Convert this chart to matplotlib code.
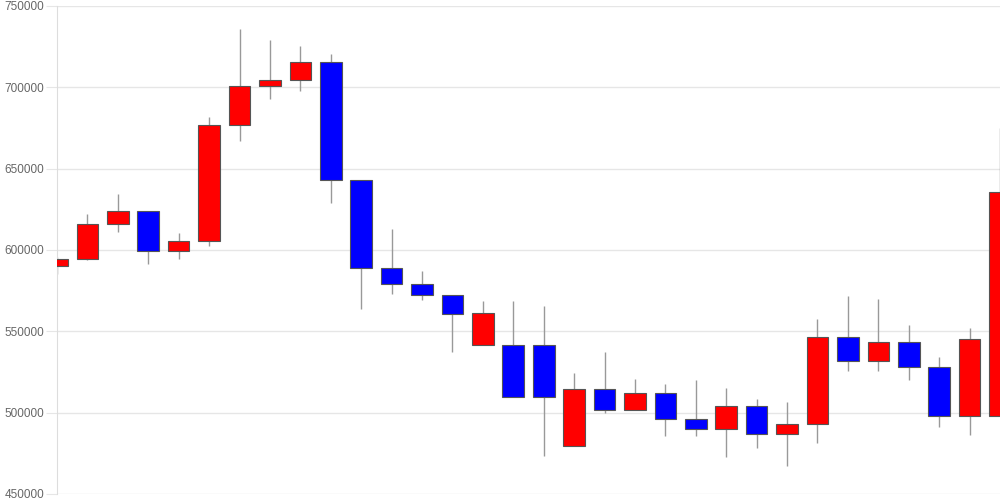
import numpy as np
import matplotlib
matplotlib.use('Agg')
import matplotlib.pyplot as plt

# 四本値 (始値, 高値, 安値, 終値)
opens = [590300, 594200, 615900, 623700, 599500, 605700, 676600, 700600,
         704500, 715600, 643000, 588700, 578800, 572100, 541900, 541900,
         541900, 479800, 514500, 501700, 511800, 496400, 490000, 503800,
         486600, 492900, 546600, 531700, 543600, 527800, 497700, 497900]
highs = [596000, 622100, 634600, 623700, 610600, 681500, 736000, 729100,
         725600, 720300, 643000, 612700, 587000, 572100, 568600, 568600,
         565500, 524100, 537200, 520600, 517500, 520000, 515100, 508100,
         506300, 557300, 571700, 569800, 554000, 534100, 551800, 674800]
lows = [585000, 594000, 611200, 591100, 594600, 602600, 667200, 692600,
        697900, 629000, 563500, 573100, 569400, 537000, 541300, 509700,
        473400, 479800, 499900, 501700, 485700, 485700, 472800, 478000,
        467100, 481100, 525700, 525700, 519800, 491100, 486000, 497900]
closes = [594200, 615900, 623700, 599500, 605700, 676600, 700600, 704500,
          715600, 643000, 588700, 578800, 572100, 560800, 561000, 509700,
          509700, 514500, 501700, 511800, 496400, 490000, 503800, 486600,
          492900, 546600, 531700, 543600, 527800, 497700, 545000, 635400]

plt.rcParams['font.family'] = ['Liberation Sans', 'DejaVu Sans']

fig = plt.figure(figsize=(10, 5), dpi=100)
ax = fig.add_axes([0.057, 0.012, 0.943, 0.976])

x = np.arange(len(opens))
o = np.array(opens)
c = np.array(closes)
colors = ['#ff0000' if cc >= oo else '#0000ff' for oo, cc in zip(o, c)]

# ヒゲ
ax.vlines(x, lows, highs, color='#999999', linewidth=1, zorder=2)
# 実体
ax.bar(x, np.abs(c - o), bottom=np.minimum(o, c), width=0.71,
       color=colors, edgecolor='#555555', linewidth=0.8, zorder=3)

ax.set_xlim(0, len(opens) - 1)
ax.set_ylim(450000, 750000)
ax.set_yticks(np.arange(450000, 750001, 50000))
ax.ticklabel_format(axis='y', style='plain', useOffset=False)
ax.set_xticks([])
ax.grid(axis='y', color='#e6e6e6', linewidth=1, zorder=0)
ax.set_axisbelow(True)
for s in ['top', 'right', 'bottom']:
    ax.spines[s].set_visible(False)
ax.spines['left'].set_color('#dddddd')
ax.tick_params(axis='y', length=8, color='#e6e6e6', pad=1,
               labelsize=8.5, labelcolor='#666666')

fig.savefig('out.png', dpi=100)
plt.close()
